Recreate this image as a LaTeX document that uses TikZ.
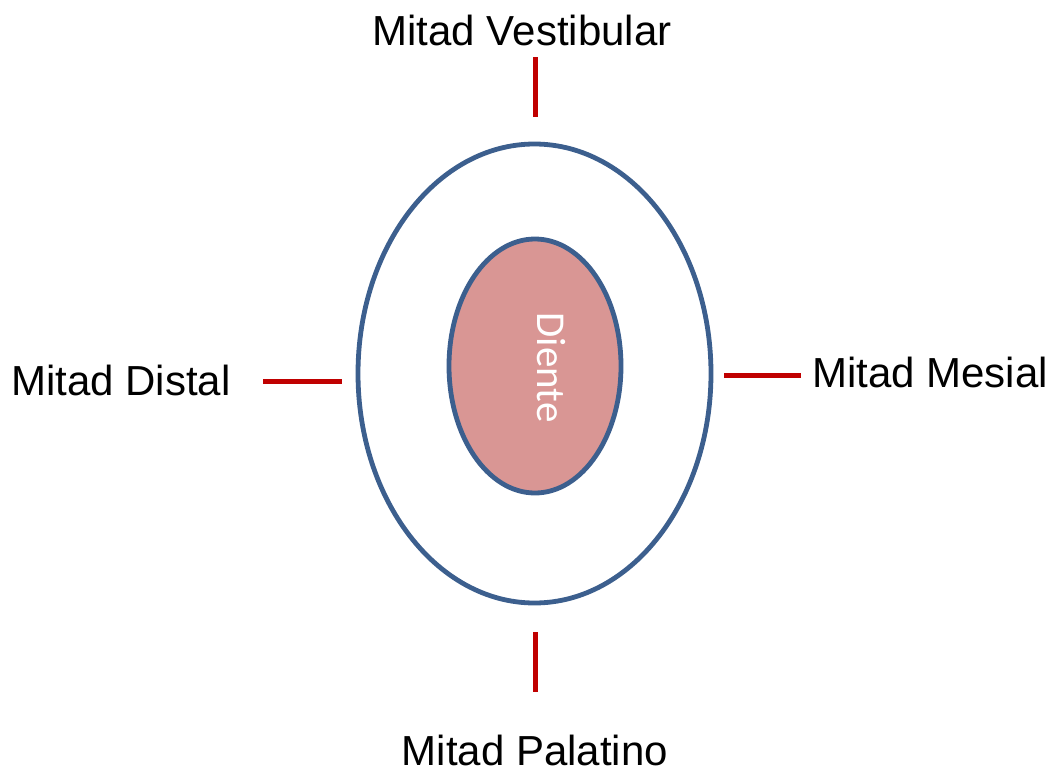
\documentclass[tikz,border=0pt]{standalone}
\usepackage{fontspec}
\setmainfont{Liberation Sans}
\newfontfamily\dientefont{Carlito}
\usetikzlibrary{shapes.geometric}
\definecolor{ringblue}{HTML}{3C5F8E}
\definecolor{tickred}{HTML}{C00000}
\definecolor{toothpink}{HTML}{D99694}
\tikzset{
  ring/.style={ellipse, draw=ringblue, line width=4.8pt, inner sep=0pt},
  tick/.style={draw=tickred, line width=5pt},
  label/.style={font=\fontsize{42}{50}\selectfont, text=black, anchor=base, inner sep=0pt}
}
\begin{document}
\begin{tikzpicture}[x=1pt,y=-1pt]
  \useasboundingbox (0,0) rectangle (1058,774);
  % outer contour and tooth
  \node[ring, fill=white, minimum width=353pt, minimum height=459pt] (outer) at (534.5,373.5) {};
  \node[ring, fill=toothpink, minimum width=172pt, minimum height=254pt] (tooth) at (535,366) {};
  \node[rotate=-90, text=white, font=\dientefont\fontsize{41}{48}\selectfont, inner sep=0pt] (diente) at (551,367.5) {Diente};
  % half labels
  \node[label] (vest) at (522,45) {Mitad Vestibular};
  \node[label] (pal) at (535,765) {Mitad Palatino};
  \node[label] (dist) at (121,395) {Mitad Distal};
  \node[label] (mes) at (930,387) {Mitad Mesial};
  % tick marks
  \coordinate (vA) at (535,57);  \coordinate (vB) at (535,117);
  \coordinate (pA) at (535,632); \coordinate (pB) at (535,692);
  \coordinate (dA) at (263,381.5); \coordinate (dB) at (342,381.5);
  \coordinate (mA) at (724,375); \coordinate (mB) at (801,375);
  \draw[tick] (vA) -- (vB);
  \draw[tick] (pA) -- (pB);
  \draw[tick] (dA) -- (dB);
  \draw[tick] (mA) -- (mB);
\end{tikzpicture}
\end{document}
